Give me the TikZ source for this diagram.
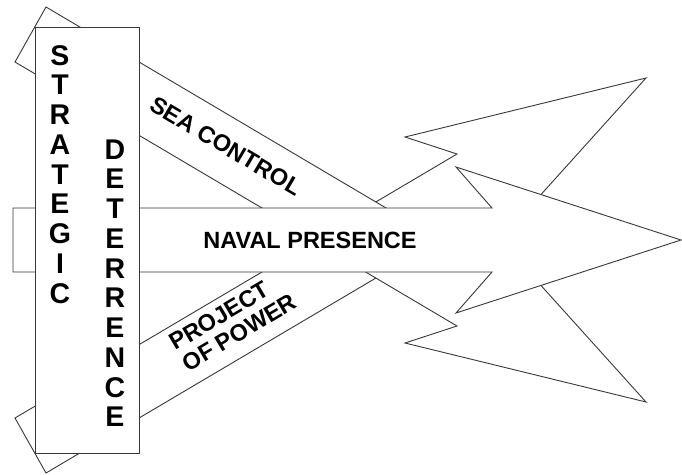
\documentclass[tikz,border=0pt]{standalone}
\usepackage{fontspec}
\setmainfont{Liberation Sans}
\newcommand\vlet[1]{\hbox to 30pt{\hss#1\hss}}
\begin{document}
\begin{tikzpicture}[x=1pt,y=-1pt,
  shp/.style={draw=black!78, line width=0.9pt, fill=white, line join=miter},
  lbl/.style={font=\bfseries\fontsize{23.5}{24.5}\selectfont, inner sep=0pt},
  vlbl/.style={font=\bfseries\fontsize{28.5}{29.75}\selectfont, inner sep=0pt, anchor=base}]
\useasboundingbox (0,0) rectangle (682,474);
% upper bent arrow: head part, then shaft
\draw[shp] (311.5,240) -- (375.8,202) -- (457,154) -- (405,137) -- (646,78)
  -- (479.4,262.9) -- (489.6,209.1) -- (437.3,240) -- cycle;
\draw[shp] (46,7) -- (440.2,240) -- (316.1,240) -- (15,62) -- cycle;
% lower bent arrow (mirror image): shaft, then head part
\begin{scope}[shift={(0,480)}, yscale=-1]
\draw[shp] (46,7) -- (440.2,240) -- (316.1,240) -- (15,62) -- cycle;
\draw[shp] (311.5,240) -- (375.8,202) -- (457,154) -- (405,137) -- (646,78)
  -- (479.4,262.9) -- (489.6,209.1) -- (437.3,240) -- cycle;
\end{scope}
% middle arrow
\draw[shp] (13,208) -- (492,208) -- (456,167) -- (681,240) -- (456,313)
  -- (492,272) -- (13,272) -- cycle;
% vertical box
\draw[shp] (35,27) rectangle (139,453);
% labels
\node[lbl] (np) at (310,240) {NAVAL PRESENCE};
\node[lbl, rotate=-30.6] (sc) at (226,146) {SEA CONTROL};
\node[lbl, rotate=30.6, align=left] (pp) at (233,322) {PROJECT\\OF POWER};
\node[vlbl] (st) at (60,65) {\vtop{\vlet{S}\vlet{T}\vlet{R}\vlet{A}\vlet{T}\vlet{E}\vlet{G}\vlet{I}\vlet{C}}};
\node[vlbl] (de) at (115,159) {\vtop{\vlet{D}\vlet{E}\vlet{T}\vlet{E}\vlet{R}\vlet{R}\vlet{E}\vlet{N}\vlet{C}\vlet{E}}};
\end{tikzpicture}
\end{document}
